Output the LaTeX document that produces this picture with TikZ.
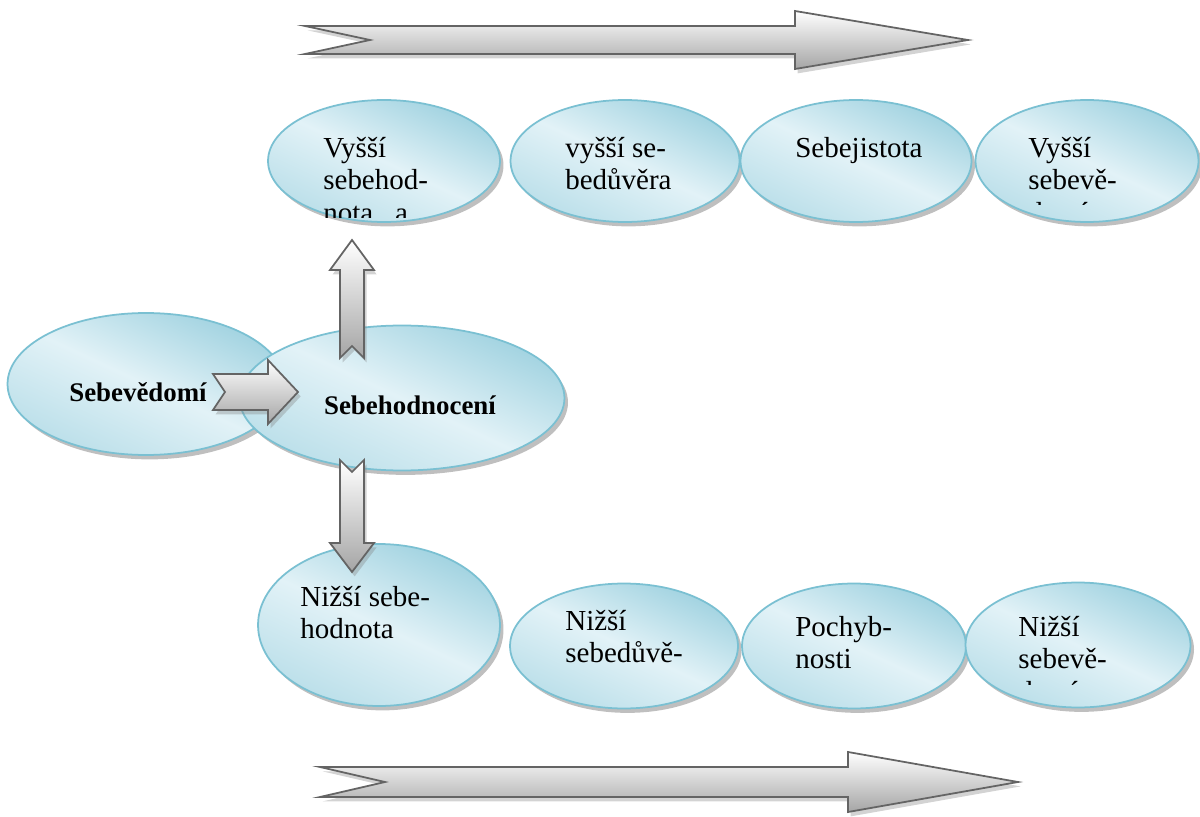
\documentclass[tikz,border=0pt]{standalone}
\usepackage{fontspec}
\setmainfont{Liberation Serif}
\usepackage{tikz}
\usetikzlibrary{shapes,shadows,positioning,calc}
\definecolor{bluerim}{RGB}{122,192,210}
\definecolor{bluedark}{RGB}{160,210,224}
\definecolor{bluelight}{RGB}{226,242,247}
\definecolor{arrowrim}{RGB}{100,100,100}
\definecolor{arrowgray}{RGB}{165,165,165}
\tikzstyle{bubble}=[shape=ellipse,draw=bluerim,line width=1pt,top color=bluedark,bottom color=bluedark!60!bluelight,middle color=bluelight,shading angle=-25,drop shadow={shadow xshift=2pt,shadow yshift=-2.5pt,opacity=0.5},inner sep=0pt]
\tikzstyle{fatbody}=[draw=arrowrim,line width=1pt,top color=white,bottom color=arrowgray,drop shadow={shadow xshift=1.5pt,shadow yshift=-2.5pt,opacity=0.35}]
\tikzstyle{txt}=[font=\fontsize{16.5}{18.4}\selectfont,align=left,inner sep=0pt,anchor=north west]
\tikzstyle{boldtxt}=[font=\fontsize{15.3}{17}\selectfont\bfseries,inner sep=0pt]
\tikzset{pics/fatarrow/.style n args={5}{code={
  \path[fatbody] (0,#2) -- ({#1-#4},#2) -- ({#1-#4},#3) -- (#1,0) -- ({#1-#4},-#3)
    -- ({#1-#4},-#2) -- (0,-#2) -- (#5,0) -- cycle;
}}}
\begin{document}
\begin{tikzpicture}[x=0.02cm,y=-0.02cm]
\useasboundingbox (0,0) rectangle (1200,817);

% upper row
\node[bubble,minimum width=4.64cm,minimum height=2.44cm] (hiWorth) at (384,161) {};
\node[bubble,minimum width=4.58cm,minimum height=2.44cm] (hiTrust) at (625,161) {};
\node[bubble,minimum width=4.62cm,minimum height=2.44cm] (hiSure) at (856,161) {};
\node[bubble,minimum width=4.46cm,minimum height=2.44cm] (hiAware) at (1087,161) {};

\begin{scope}
 \clip (300,120) rectangle (490,218);
 \node[txt] (tHiWorth) at (323,137) {Vyšší\\sebehod-\\nota\hspace{0.75em}a};
\end{scope}
\node[txt] (tHiTrust) at (565,137) {vyšší se-\\bedůvěra};
\node[txt] (tHiSure) at (795,137) {Sebejistota};
\begin{scope}
 \clip (1010,120) rectangle (1190,205);
 \node[txt] (tHiAware) at (1028,137) {Vyšší\\sebevě-\\domí};
\end{scope}

% middle
\node[bubble,minimum width=5.54cm,minimum height=2.84cm] (aware) at (146,384) {};
\node[bubble,minimum width=6.5cm,minimum height=2.9cm] (worth) at (402,398) {};
\node[boldtxt] (tAware) at (138,392) {Sebevědomí};
\node[boldtxt] (tWorth) at (410,405) {Sebehodnocení};

% lower row
\node[bubble,minimum width=4.84cm,minimum height=3.24cm] (loWorth) at (379,625) {};
\node[bubble,minimum width=4.56cm,minimum height=2.5cm] (loTrust) at (624,646) {};
\node[bubble,minimum width=4.48cm,minimum height=2.5cm] (loDoubt) at (854,646) {};
\node[bubble,minimum width=4.5cm,minimum height=2.5cm] (loAware) at (1078,645) {};

\node[txt] (tLoWorth) at (300,586) {Nižší sebe-\\hodnota};
\node[txt] (tLoTrust) at (565,610) {Nižší\\sebedůvě-};
\node[txt] (tLoDoubt) at (795,616) {Pochyb-\\nosti};
\begin{scope}
 \clip (1000,600) rectangle (1180,684);
 \node[txt] (tLoAware) at (1018,616) {Nižší\\sebevě-\\domí};
\end{scope}

% block arrows
\coordinate (inTail) at (213,392);
\coordinate (upTail) at (352,358);
\coordinate (downTail) at (352,460);
\pic (inArrow) at (inTail) {fatarrow={85}{18}{32}{30}{12}};
\pic[rotate=90] (upArrow) at (upTail) {fatarrow={118}{12}{22}{30}{12}};
\pic[rotate=-90] (downArrow) at (downTail) {fatarrow={112}{12}{22}{29}{12}};

\coordinate (topTail) at (305,40);
\coordinate (botTail) at (320,782);
\pic (topArrow) at (topTail) {fatarrow={663}{14}{29}{173}{65}};
\pic (botArrow) at (botTail) {fatarrow={698}{15}{30}{170}{65}};

\end{tikzpicture}
\end{document}
